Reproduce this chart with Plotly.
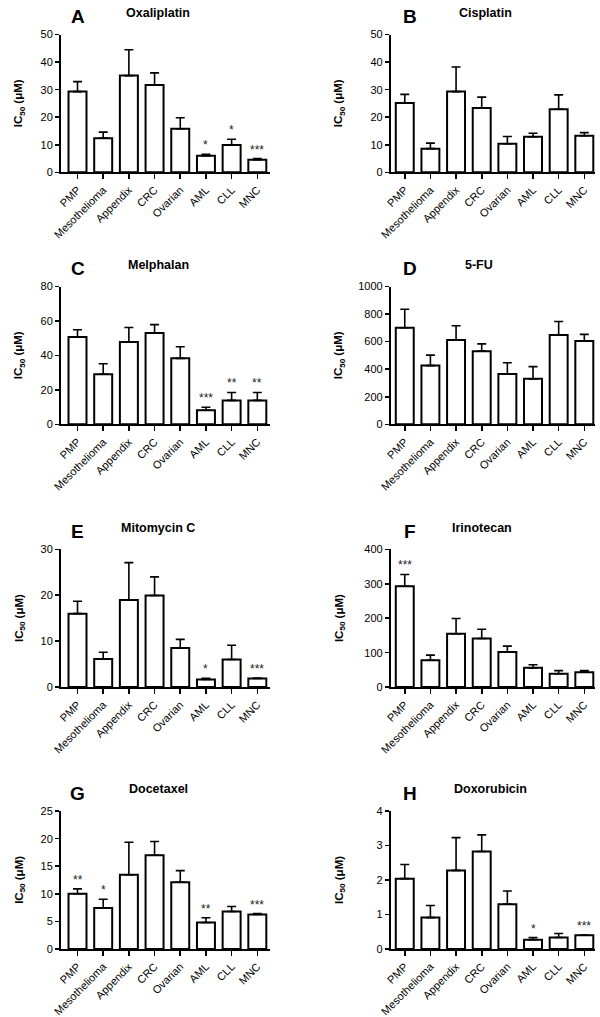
import plotly.graph_objects as go

W, H = 600, 1017

categories = ["PMP", "Mesothelioma", "Appendix", "CRC", "Ovarian", "AML", "CLL", "MNC"]

drugs = ["Oxaliplatin", "Cisplatin", "Melphalan", "5-FU",
         "Mitomycin C", "Irinotecan", "Docetaxel", "Doxorubicin"]
letters = ["A", "B", "C", "D", "E", "F", "G", "H"]

oxaliplatin_mean = [29.3, 12.4, 35.1, 31.7, 15.8, 6.0, 9.9, 4.6]
oxaliplatin_err = [32.9, 14.6, 44.5, 36.1, 19.8, 6.5, 12.0, 5.0]
oxaliplatin_sig = ["", "", "", "", "", "*", "*", "***"]

cisplatin_mean = [25.2, 8.6, 29.3, 23.3, 10.4, 12.9, 22.9, 13.3]
cisplatin_err = [28.3, 10.6, 38.2, 27.3, 13.0, 14.2, 28.1, 14.4]
cisplatin_sig = ["", "", "", "", "", "", "", ""]

melphalan_mean = [50.7, 29.1, 47.8, 53.0, 38.3, 8.2, 13.9, 13.9]
melphalan_err = [54.9, 35.2, 56.2, 57.9, 45.0, 9.9, 18.5, 18.5]
melphalan_sig = ["", "", "", "", "", "***", "**", "**"]

fu_mean = [701, 426, 612, 531, 366, 330, 648, 605]
fu_err = [835, 502, 715, 584, 447, 419, 746, 653]
fu_sig = ["", "", "", "", "", "", "", ""]

mitomycin_mean = [16.0, 6.1, 18.95, 19.96, 8.5, 1.65, 6.0, 1.9]
mitomycin_err = [18.7, 7.6, 27.1, 24.0, 10.4, 1.9, 9.1, 2.0]
mitomycin_sig = ["", "", "", "", "", "*", "", "***"]

irinotecan_mean = [293, 78, 155, 141, 102, 56, 39, 43]
irinotecan_err = [327, 93, 199, 168, 119, 65, 48, 48]
irinotecan_sig = ["***", "", "", "", "", "", "", ""]

docetaxel_mean = [10.0, 7.44, 13.45, 17.0, 12.1, 4.8, 6.8, 6.25]
docetaxel_err = [10.9, 9.0, 19.35, 19.5, 14.2, 5.65, 7.7, 6.4]
docetaxel_sig = ["**", "*", "", "", "", "**", "", "***"]

doxorubicin_mean = [2.04, 0.91, 2.28, 2.83, 1.30, 0.27, 0.33, 0.40]
doxorubicin_err = [2.45, 1.26, 3.23, 3.31, 1.68, 0.33, 0.45, 0.40]
doxorubicin_sig = ["", "", "", "", "", "*", "", "***"]

y_max = [50, 50, 80, 1000, 30, 400, 25, 4]
y_dtick = [10, 10, 20, 200, 10, 100, 5, 1]

means = [oxaliplatin_mean, cisplatin_mean, melphalan_mean, fu_mean,
         mitomycin_mean, irinotecan_mean, docetaxel_mean, doxorubicin_mean]
errs = [oxaliplatin_err, cisplatin_err, melphalan_err, fu_err,
        mitomycin_err, irinotecan_err, docetaxel_err, doxorubicin_err]
sigs = [oxaliplatin_sig, cisplatin_sig, melphalan_sig, fu_sig,
        mitomycin_sig, irinotecan_sig, docetaxel_sig, doxorubicin_sig]

# layout in pixels
col_x = [(51, 264), (387, 595)]
col_range = [(-0.64, 7.5), (-0.54, 7.42)]
row_y = [(29, 169), (285, 425), (552, 692), (818, 958)]
letter_x = [68, 406]
title_x = [[150, 483], [150, 477], [150, 480], [150, 488]]
ytitle_x = [9, 335]

def px(x):
    return x / W

def py(y):
    return 1 - y / H

fig = go.Figure()
annotations = []
layout = {}

for i in range(8):
    r, c = divmod(i, 2)
    n = i + 1
    xa = "x" if n == 1 else f"x{n}"
    ya = "y" if n == 1 else f"y{n}"
    xkey = "xaxis" if n == 1 else f"xaxis{n}"
    ykey = "yaxis" if n == 1 else f"yaxis{n}"
    up = [e - m for e, m in zip(errs[i], means[i])]
    fig.add_trace(go.Bar(
        x=categories, y=means[i], xaxis=xa, yaxis=ya,
        width=0.7,
        marker=dict(color="white", line=dict(color="black", width=2)),
        error_y=dict(type="data", array=up, arrayminus=[0] * 8, symmetric=False,
                     color="black", thickness=1.6, width=4.5),
        showlegend=False, hoverinfo="skip",
    ))
    x0, x1 = col_x[c]
    y0, y1 = row_y[r]
    layout[xkey] = dict(
        domain=[px(x0), px(x1)], anchor=ya, type="category",
        range=list(col_range[c]), showline=True, linecolor="black", linewidth=2,
        ticks="outside", ticklen=5, tickwidth=1.6, tickcolor="black",
        tickangle=-45, tickfont=dict(family="Liberation Sans, Arial", size=11, color="black"),
        showgrid=False, zeroline=False, fixedrange=True,
    )
    layout[ykey] = dict(
        domain=[py(y1), py(y0)], anchor=xa, range=[0, y_max[i]],
        dtick=y_dtick[i], tick0=0, showline=True, linecolor="black", linewidth=2,
        ticks="outside", ticklen=4, tickwidth=1.6, tickcolor="black",
        tickfont=dict(family="Liberation Sans, Arial", size=11, color="black"),
        showgrid=False, zeroline=False, fixedrange=True,
    )
    # panel letter
    annotations.append(dict(
        text=f"<b>{letters[i]}</b>", x=px(letter_x[c]), y=py(y0 - 18),
        xref="paper", yref="paper", showarrow=False, xanchor="center", yanchor="middle",
        font=dict(family="Liberation Sans, Arial", size=19, color="black"),
    ))
    # panel title
    annotations.append(dict(
        text=f"<b>{drugs[i]}</b>", x=px(title_x[r][c]), y=py(y0 - 22),
        xref="paper", yref="paper", showarrow=False, xanchor="center", yanchor="middle",
        font=dict(family="Liberation Sans, Arial", size=12.5, color="black"),
    ))
    # y-axis title
    annotations.append(dict(
        text="<b>IC<sub>50</sub> (μM)</b>", x=px(ytitle_x[c]), y=py((y0 + y1) / 2),
        xref="paper", yref="paper", showarrow=False, textangle=-90,
        xanchor="center", yanchor="middle",
        font=dict(family="Liberation Sans, Arial", size=11.5, color="black"),
    ))
    # significance stars
    for cat, e, s in zip(categories, errs[i], sigs[i]):
        if s:
            annotations.append(dict(
                text=s, x=cat, y=e, xref=xa, yref=ya, showarrow=False,
                xanchor="center", yanchor="bottom", yshift=0,
                font=dict(family="Liberation Sans, Arial", size=12, color="#222"),
            ))

fig.update_layout(
    width=W, height=H, margin=dict(l=0, r=0, t=0, b=0),
    paper_bgcolor="white", plot_bgcolor="white",
    annotations=annotations, bargap=0.3, **layout,
)

fig.write_html(
    "out.html",
    config={"displayModeBar": False, "staticPlot": True},
    post_script="document.body.style.margin='0';document.body.style.overflow='hidden';",
)
